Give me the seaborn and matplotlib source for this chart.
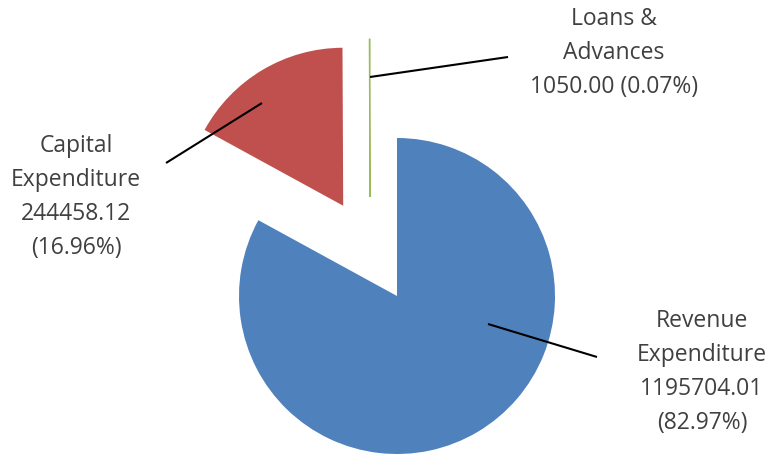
import matplotlib
matplotlib.use("Agg")
import matplotlib.pyplot as plt
import seaborn as sns

# data
categories = ["Revenue\nExpenditure", "Capital\nExpenditure", "Loans &\nAdvances"]
amounts = [1195704.01, 244458.12, 1050.00]
value_sep = ["\n", "\n", " "]
colors = ["#4F81BD", "#C0504D", "#9BBB59"]

sns.set_theme(style="white")
plt.rcParams['font.family'] = ['Open Sans', 'DejaVu Sans']

W, H = 769, 457
R_PX = 158          # pie radius in pixels
CX, CY = 397, 296   # pie centre in pixels (from top-left)


def px(x, y):
    """pixel position (top-left origin) -> data units (radius = 1)"""
    return (x - CX) / R_PX, (CY - y) / R_PX


fig = plt.figure(figsize=(W / 100, H / 100), dpi=100)
ax = fig.add_axes([0, 0, 1, 1])

wedges, _ = ax.pie(amounts, colors=colors, startangle=90, counterclock=False,
                   explode=[0, 0.665, 0.64], radius=1,
                   wedgeprops=dict(linewidth=0))
# the tiny slice sits a bit left of its radial position in the original
wedges[2].set_center(px(370, 197))
wedges[2].set_edgecolor(colors[2])
wedges[2].set_linewidth(0.8)

total = sum(amounts)
labels = ['%s\n%.2f%s(%.2f%%)' % (c, a, s, 100 * a / total)
          for c, a, s in zip(categories, amounts, value_sep)]

# label centres and leader lines (pixel layout)
label_pos = [(702, 372), (76, 197), (614, 53)]
leaders = [((488, 324), (597, 357)),
           ((262, 103), (166, 163)),
           ((370, 77), (508, 57))]

for text, pos, (p0, p1) in zip(labels, label_pos, leaders):
    ax.text(*px(*pos), text, ha='center', va='center', fontsize=16.5,
            color='#404040', linespacing=1.55)
    x0, y0 = px(*p0)
    x1, y1 = px(*p1)
    ax.plot([x0, x1], [y0, y1], color='black', lw=1.5, solid_capstyle='butt')

ax.set_xlim(px(0, 0)[0], px(W, 0)[0])
ax.set_ylim(px(0, H)[1], px(0, 0)[1])
ax.set_aspect('auto')
ax.axis('off')

fig.savefig('out.png', dpi=100, facecolor='white')
